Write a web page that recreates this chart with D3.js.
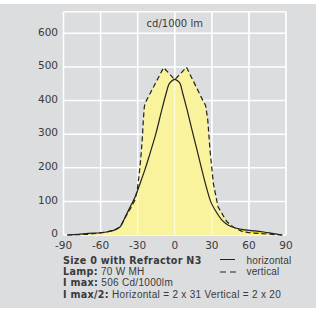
<!DOCTYPE html>
<html>
<head>
<meta charset="utf-8">
<script src="https://cdn.jsdelivr.net/npm/d3@7"></script>
<style>
  body { margin: 0; background: #ffffff; }
  svg text { font-family: "Liberation Sans", Arial, sans-serif; fill: #3a3a3a; }
  svg .b { font-family: "DejaVu Sans", sans-serif; font-weight: bold; font-size: 9.6px; letter-spacing: 0.3px; }
  svg .tick { font-family: "DejaVu Sans", sans-serif; }
</style>
</head>
<body>
<div id="chart"></div>
<script>
// horizontal plane (solid line), angle in degrees / cd per 1000 lm
var hAngles = [-87, -78, -70, -62, -55, -50, -44, -40, -36, -32, -28, -24, -20, -15, -10.5, -7, -5, -2.5, 0,
  2.5, 4.5, 6.5, 10, 14, 18, 22, 25, 29, 33, 38, 43, 50, 57, 65, 72, 80, 87];
var hValues = [0, 2, 5, 6, 9, 13, 25, 54, 84, 114, 154, 196, 243, 305, 372, 421, 446, 458, 463,
  458, 449, 421, 372, 312, 253, 193, 150, 100, 72, 45, 30, 20, 15, 12, 9, 4, 0];

// vertical plane (dashed line)
var vAngles = [-87, -78, -70, -62, -55, -48, -44, -39, -35, -32.2, -30.3, -29, -27.6, -26.3, -25.4, -24.6, -23.5, -9, 0,
  9.5, 22.5, 25, 26.7, 28.5, 31.2, 35, 42, 48, 55, 62, 70, 78, 87];
var vValues = [0, 1, 2, 5, 9, 16, 25, 59, 84, 104, 134, 173, 223, 283, 342, 382, 396, 498, 462,
  499, 402, 385, 342, 253, 154, 84, 40, 22, 10, 6, 4, 2, 0];

var xTicks = [-90, -60, -30, 0, 30, 60, 90];
var yTicks = [0, 100, 200, 300, 400, 500, 600];

var w = 316, h = 311;

var x = d3.scaleLinear().domain([-90, 90]).range([63.5, 286]);
var y = d3.scaleLinear().domain([0, 600]).range([235, 33.3]);
var yTop = 664;

var svg = d3.select("#chart").append("svg")
  .attr("width", w)
  .attr("height", h);

// grey panel
svg.append("rect")
  .attr("x", 0).attr("y", 4)
  .attr("width", 316).attr("height", 304)
  .style("fill", "#dcdddf");

// grid
svg.selectAll("line.gx")
  .data(xTicks)
  .enter().append("line")
  .attr("x1", function(d){ return x(d) }).attr("x2", function(d){ return x(d) })
  .attr("y1", y(0)).attr("y2", y(yTop))
  .style("stroke", "#ffffff").style("stroke-width", 1.5);

svg.selectAll("line.gy")
  .data(yTicks.concat([yTop]))
  .enter().append("line")
  .attr("x1", x(-90)).attr("x2", x(90))
  .attr("y1", function(d){ return y(d) }).attr("y2", function(d){ return y(d) })
  .style("stroke", "#ffffff").style("stroke-width", 1.5);

var hPts = hAngles.map(function(a, i){ return [a, hValues[i]] });
var vPts = vAngles.map(function(a, i){ return [a, vValues[i]] });

var area = d3.area()
  .x(function(d){ return x(d[0]) })
  .y0(y(0))
  .y1(function(d){ return y(d[1]) });

// bright yellow where horizontal pokes above vertical
svg.append("path")
  .datum(hPts)
  .attr("d", area.curve(d3.curveMonotoneX))
  .style("fill", "#f0e31c");

svg.append("path")
  .datum(vPts)
  .attr("d", area.curve(d3.curveLinear))
  .style("fill", "#f8f39c");

// vertical grid lines show faintly through the fill
svg.selectAll("line.gx2")
  .data(xTicks)
  .enter().append("line")
  .attr("x1", function(d){ return x(d) }).attr("x2", function(d){ return x(d) })
  .attr("y1", y(0)).attr("y2", y(yTop))
  .style("stroke", "#ffffff").style("stroke-width", 1.2).style("opacity", 0.7);

var line = d3.line()
  .x(function(d){ return x(d[0]) })
  .y(function(d){ return y(d[1]) });

svg.append("path")
  .datum(hPts)
  .attr("d", line.curve(d3.curveMonotoneX))
  .style("fill", "none").style("stroke", "#222222").style("stroke-width", 1.2);

svg.append("path")
  .datum(vPts)
  .attr("d", line.curve(d3.curveLinear))
  .style("fill", "none").style("stroke", "#222222").style("stroke-width", 1.2)
  .style("stroke-dasharray", "5,3");

// tick labels
svg.selectAll("text.yl")
  .data(yTicks)
  .enter().append("text")
  .attr("class", "tick")
  .attr("x", 58)
  .attr("y", function(d){ return y(d) + 2.2 })
  .attr("text-anchor", "end")
  .style("font-size", "10.5px")
  .text(function(d){ return d });

svg.selectAll("text.xl")
  .data(xTicks)
  .enter().append("text")
  .attr("class", "tick")
  .attr("x", function(d){ return x(d) })
  .attr("y", 249)
  .attr("text-anchor", "middle")
  .style("font-size", "10.5px")
  .text(function(d){ return d });

svg.append("text")
  .attr("class", "tick")
  .attr("x", x(0)).attr("y", 27)
  .attr("text-anchor", "middle")
  .style("font-size", "10px")
  .text("cd/1000 lm");

// footer
var foot = svg.append("g").style("font-size", "10px").style("letter-spacing", "0.3px");
foot.append("text").attr("class", "b").attr("x", 63).attr("y", 263.5)
  .text("Size 0 with Refractor N3");
var t2 = foot.append("text").attr("x", 63).attr("y", 275);
t2.append("tspan").attr("class", "b").text("Lamp:");
t2.append("tspan").text(" 70 W MH");
var t3 = foot.append("text").attr("x", 63).attr("y", 286.3);
t3.append("tspan").attr("class", "b").text("I max:");
t3.append("tspan").text(" 506 Cd/1000lm");
var t4 = foot.append("text").attr("x", 63).attr("y", 297.6);
t4.append("tspan").attr("class", "b").text("I max/2:");
t4.append("tspan").text(" Horizontal = 2 x 31 Vertical = 2 x 20");

// legend
foot.append("line").attr("x1", 220).attr("x2", 235).attr("y1", 259.5).attr("y2", 259.5)
  .style("stroke", "#222").style("stroke-width", 1);
foot.append("line").attr("x1", 220).attr("x2", 236).attr("y1", 272).attr("y2", 272)
  .style("stroke", "#222").style("stroke-width", 1).style("stroke-dasharray", "6,4");
foot.append("text").attr("x", 246.5).attr("y", 263.5).style("letter-spacing", "0.15px").text("horizontal");
foot.append("text").attr("x", 246.5).attr("y", 275).style("letter-spacing", "0.15px").text("vertical");
</script>
</body>
</html>
